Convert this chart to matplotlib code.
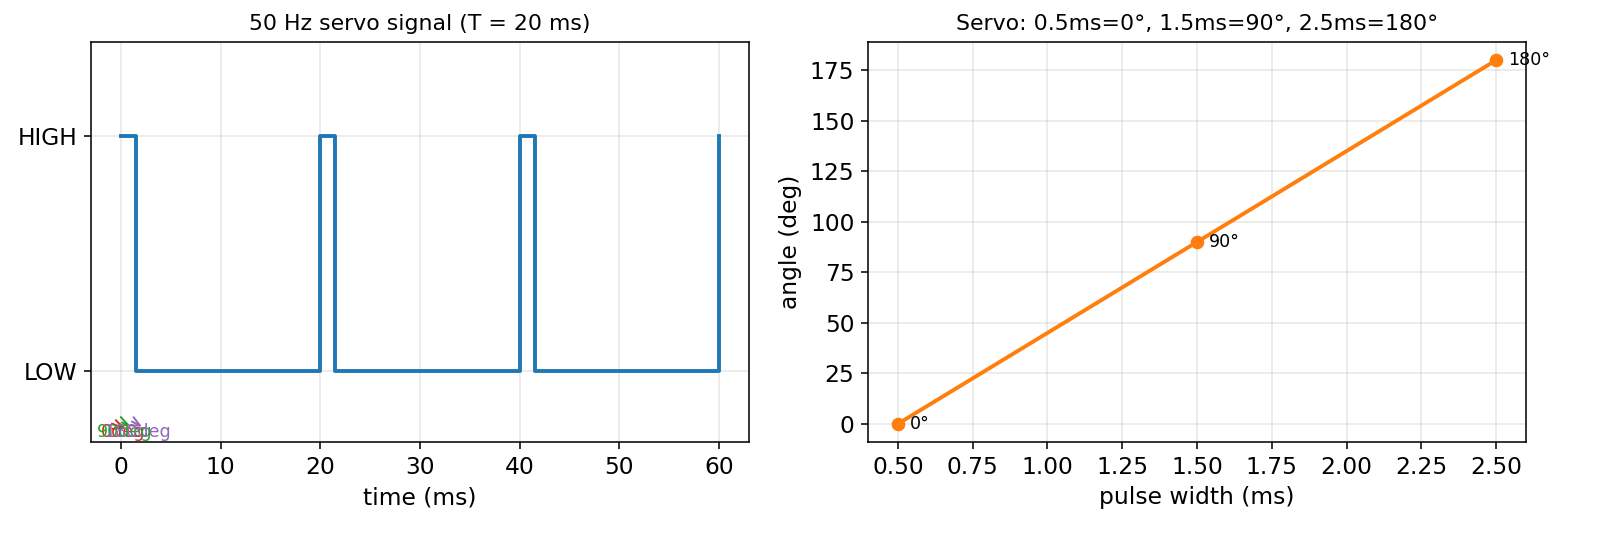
import matplotlib
matplotlib.use("Agg")
import matplotlib.pyplot as plt
import numpy as np

# Servo PWM signal edges (ms) and logic level after each edge
edge_times = [0, 1.5, 20, 21.5, 40, 41.5, 60]
edge_levels = [1, 0, 1, 0, 1, 0, 1]

# Pulse width -> angle mapping
pulse_ms = [0.5, 1.5, 2.5]
angles = [0, 90, 180]
angle_labels = ["0°", "90°", "180°"]

# Little annotations crowded in the corner of the signal plot
note_labels = ["0deg", "90deg", "180deg"]
note_colors = ["tab:red", "tab:green", "tab:purple"]
note_text_x = [-2.0, -2.4, -1.7]
note_tails = [(-0.9, -0.222), (0.1, -0.217), (1.1, -0.213)]
note_heads = [(0.4, -0.243), (0.9, -0.23), (2.1, -0.234)]

DPI = 140
fig = plt.figure(figsize=(1619 / DPI, 545 / DPI), dpi=DPI)
plt.rcParams["font.size"] = 12

# Axes placed by pixel positions of the reference
ax1 = fig.add_axes([91 / 1619, 1 - 442 / 545, 658 / 1619, 400 / 545])
ax2 = fig.add_axes([868 / 1619, 1 - 442 / 545, 658 / 1619, 400 / 545])

# Left: square wave
ax1.plot(edge_times, edge_levels, drawstyle="steps-post", color="tab:blue", linewidth=2)
ax1.set_ylim(-0.3, 1.4)
ax1.set_yticks([0, 1])
ax1.set_yticklabels(["LOW", "HIGH"], fontsize=12)
ax1.tick_params(axis="x", labelsize=12)
ax1.set_xlabel("time (ms)", fontsize=12)
ax1.set_title("50 Hz servo signal (T = 20 ms)", fontsize=11.3)
ax1.grid(True, alpha=0.3)

for lab, col, tx, tail, head in zip(note_labels, note_colors, note_text_x, note_tails, note_heads):
    ax1.annotate("", xy=head, xytext=tail,
                 arrowprops=dict(arrowstyle="->", color=col, lw=1, shrinkA=0, shrinkB=0))
    ax1.text(tx, -0.277, lab, color=col, fontsize=9, ha="left", va="baseline")

# Right: pulse width vs angle
ax2.plot(pulse_ms, angles, color="tab:orange", linewidth=2, marker="o", markersize=6)
for pw, ang, lab in zip(pulse_ms, angles, angle_labels):
    ax2.annotate(lab, xy=(pw, ang), xytext=(6, 0), textcoords="offset points",
                 fontsize=9, va="center", ha="left")
ax2.set_xticks(np.arange(0.5, 2.51, 0.25))
ax2.tick_params(labelsize=12)
ax2.set_xlabel("pulse width (ms)", fontsize=12)
ax2.set_ylabel("angle (deg)", fontsize=12)
ax2.set_title("Servo: 0.5ms=0°, 1.5ms=90°, 2.5ms=180°", fontsize=11.3)
ax2.grid(True, alpha=0.3)

fig.savefig("out.png", dpi=DPI)
